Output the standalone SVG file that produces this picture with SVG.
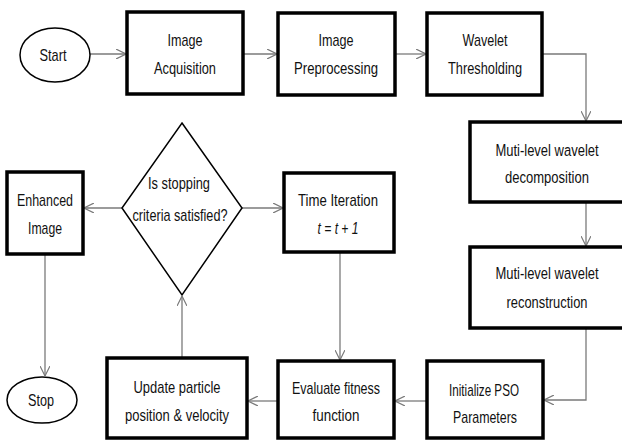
<svg xmlns="http://www.w3.org/2000/svg" width="622" height="441" viewBox="0 0 622 441">
<defs>
<style>
.box{fill:#fff;stroke:#000;stroke-width:3.5}
.open{fill:#fff;stroke:#000;stroke-width:3.5;stroke-linejoin:miter}
.oval{fill:#fff;stroke:#000;stroke-width:1.5}
.dia{fill:#fff;stroke:#000;stroke-width:1.5}
.t{font-family:"Liberation Sans",Arial,sans-serif;font-size:17px;fill:#111;text-anchor:middle}
.s{font-family:"Liberation Sans",Arial,sans-serif;font-size:13px;fill:#111;text-anchor:middle}
.i{font-style:italic}
.c{fill:none;stroke:#7a7a7a;stroke-width:1.3}
</style>
<marker id="ah" viewBox="0 0 10 10" refX="10" refY="5" markerWidth="10" markerHeight="10" markerUnits="userSpaceOnUse" orient="auto">
<path d="M0,0 L10,5 L0,10" fill="none" stroke="#7a7a7a" stroke-width="1.2"/>
</marker>
</defs>
<rect width="622" height="441" fill="#fff"/>

<g id="connectors">
<path class="c" marker-end="url(#ah)" d="M90,54 H126"/>
<path class="c" marker-end="url(#ah)" d="M243,54 H277"/>
<path class="c" marker-end="url(#ah)" d="M395,54 H426"/>
<path class="c" marker-end="url(#ah)" d="M542,54 H586 V121"/>
<path class="c" marker-end="url(#ah)" d="M586,202 V246"/>
<path class="c" marker-end="url(#ah)" d="M586,328 V400 H544"/>
<path class="c" marker-end="url(#ah)" d="M427,401 H395"/>
<path class="c" marker-end="url(#ah)" d="M278,401 H248"/>
<path class="c" marker-end="url(#ah)" d="M182,358 V296"/>
<path class="c" marker-end="url(#ah)" d="M122,208 H84"/>
<path class="c" marker-end="url(#ah)" d="M242,208 H283"/>
<path class="c" marker-end="url(#ah)" d="M340,253 V360"/>
<path class="c" marker-end="url(#ah)" d="M45,255 V376"/>
</g>

<g id="start">
<ellipse class="oval" cx="55" cy="55" rx="35" ry="27"/>
<text class="t" x="53" y="61" textLength="27" lengthAdjust="spacingAndGlyphs">Start</text>
</g>

<g id="acquisition">
<rect class="box" x="127" y="12" width="116" height="82"/>
<text class="t" x="185" y="46" textLength="35" lengthAdjust="spacingAndGlyphs">Image</text>
<text class="t" x="185" y="74" textLength="62" lengthAdjust="spacingAndGlyphs">Acquisition</text>
</g>

<g id="preprocessing">
<rect class="box" x="278" y="13" width="117" height="82"/>
<text class="t" x="336" y="46" textLength="35" lengthAdjust="spacingAndGlyphs">Image</text>
<text class="t" x="336" y="74" textLength="84" lengthAdjust="spacingAndGlyphs">Preprocessing</text>
</g>

<g id="thresholding">
<rect class="box" x="427" y="13" width="115" height="82"/>
<text class="t" x="485" y="46" textLength="45" lengthAdjust="spacingAndGlyphs">Wavelet</text>
<text class="t" x="485" y="74" textLength="74" lengthAdjust="spacingAndGlyphs">Thresholding</text>
</g>

<g id="decomposition">
<path class="open" d="M622,122 H470 V202 H622"/>
<text class="s" transform="translate(547,156) scale(1,1.3)">Muti-level wavelet</text>
<text class="t" x="547" y="183" textLength="84" lengthAdjust="spacingAndGlyphs">decomposition</text>
</g>

<g id="reconstruction">
<path class="open" d="M622,247 H470 V328 H622"/>
<text class="s" transform="translate(547,279) scale(1,1.3)">Muti-level wavelet</text>
<text class="t" x="547" y="308" textLength="81" lengthAdjust="spacingAndGlyphs">reconstruction</text>
</g>

<g id="initialize">
<rect class="box" x="427" y="361" width="116" height="77"/>
<text class="t" x="484" y="396" textLength="70" lengthAdjust="spacingAndGlyphs">Initialize PSO</text>
<text class="t" x="485" y="423" textLength="64" lengthAdjust="spacingAndGlyphs">Parameters</text>
</g>

<g id="evaluate">
<rect class="box" x="278" y="361" width="116" height="77"/>
<text class="t" x="336" y="394" textLength="88" lengthAdjust="spacingAndGlyphs">Evaluate fitness</text>
<text class="t" x="336" y="421" textLength="47" lengthAdjust="spacingAndGlyphs">function</text>
</g>

<g id="update">
<rect class="box" x="107" y="358" width="140" height="80"/>
<text class="t" x="177" y="393" textLength="87" lengthAdjust="spacingAndGlyphs">Update particle</text>
<text class="t" x="177" y="421" textLength="104" lengthAdjust="spacingAndGlyphs">position &amp; velocity</text>
</g>

<g id="decision">
<polygon class="dia" points="182,123 242,208 182,295 122,208"/>
<text class="t" x="179" y="189" textLength="62" lengthAdjust="spacingAndGlyphs">Is stopping</text>
<text class="t" x="180" y="221" textLength="95" lengthAdjust="spacingAndGlyphs">criteria satisfied?</text>
</g>

<g id="time">
<rect class="box" x="284" y="173" width="110" height="79"/>
<text class="t" x="338" y="206" textLength="80" lengthAdjust="spacingAndGlyphs">Time Iteration</text>
<text class="t i" x="338" y="234" textLength="41" lengthAdjust="spacingAndGlyphs">t = t + 1</text>
</g>

<g id="enhanced">
<rect class="box" x="7" y="172" width="76" height="82"/>
<text class="t" x="45" y="206" textLength="56" lengthAdjust="spacingAndGlyphs">Enhanced</text>
<text class="t" x="45" y="234" textLength="34" lengthAdjust="spacingAndGlyphs">Image</text>
</g>

<g id="stop">
<ellipse class="oval" cx="42" cy="400" rx="35" ry="23"/>
<text class="t" x="41" y="406" textLength="26" lengthAdjust="spacingAndGlyphs">Stop</text>
</g>
</svg>
